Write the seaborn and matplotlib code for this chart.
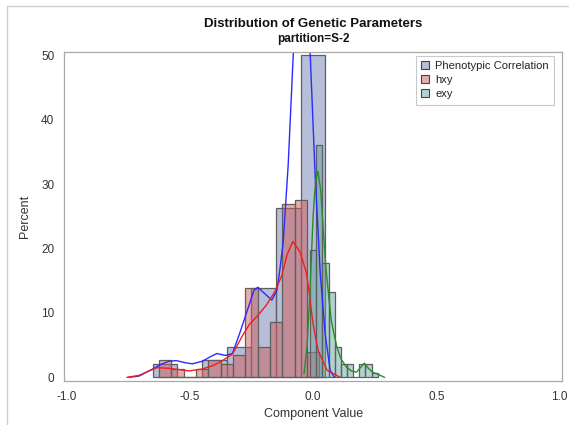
import numpy as np
import pandas as pd
import matplotlib
matplotlib.use("Agg")
import matplotlib.pyplot as plt
import seaborn as sns
from matplotlib.patches import Patch
from matplotlib.lines import Line2D

# ---- data -------------------------------------------------------------
series_names = ["Phenotypic Correlation", "hxy", "exy"]

# histogram bins: bin centres and percent of observations in each bin
pheno_centers = [-0.6, -0.5, -0.4, -0.3, -0.2, -0.1, 0.0]
pheno_pct = [2.1, 0.0, 2.7, 4.7, 13.9, 26.3, 50.0]

hxy_centers = [-0.6, -0.55, -0.5, -0.45, -0.4, -0.35, -0.3, -0.25, -0.2,
               -0.15, -0.1, -0.05, 0.0]
hxy_pct = [2.7, 1.3, 0.0, 1.3, 2.7, 2.0, 3.4, 13.9, 4.7, 8.6, 27.0, 27.6, 4.0]

exy_centers = [0.0, 0.025, 0.05, 0.075, 0.1, 0.125, 0.15, 0.175, 0.2,
               0.225, 0.25]
exy_pct = [19.8, 36.1, 17.7, 13.2, 4.7, 2.0, 2.0, 0.0, 2.0, 2.0, 0.7]

# kernel density curves, scaled to the percent axis
pheno_kde_x = [-0.747, -0.706, -0.650, -0.618, -0.584, -0.555, -0.522, -0.490,
               -0.449, -0.412, -0.390, -0.355, -0.327, -0.298, -0.271, -0.240,
               -0.224, -0.196, -0.167, -0.147, -0.135, -0.121, -0.101, -0.080,
               -0.061, -0.045, -0.029, -0.012, 0.008, 0.029, 0.049, 0.069, 0.086]
pheno_kde_y = [0.0, 0.2, 1.3, 2.0, 2.5, 2.6, 2.3, 2.1,
               2.5, 3.3, 3.7, 3.4, 3.7, 6.8, 9.9, 13.5,
               14.0, 13.0, 12.0, 13.5, 16.6, 21.1, 33.0, 50.5,
               64.0, 68.0, 64.0, 50.5, 31.6, 16.1, 6.8, 1.1, 0.0]

hxy_kde_x = [-0.755, -0.706, -0.665, -0.633, -0.584, -0.543, -0.502, -0.449,
             -0.408, -0.380, -0.327, -0.286, -0.257, -0.224, -0.188, -0.155,
             -0.127, -0.106, -0.082, -0.053, -0.026, 0.0, 0.020, 0.057, 0.110]
hxy_kde_y = [0.0, 0.3, 1.0, 1.5, 1.4, 1.2, 1.0, 1.3,
             1.8, 2.3, 3.6, 6.5, 8.3, 9.6, 11.3, 13.3,
             15.8, 19.0, 21.1, 19.5, 16.1, 8.3, 4.2, 1.1, 0.0]

exy_kde_x = [-0.037, -0.024, -0.012, 0.0, 0.010, 0.020, 0.031, 0.041, 0.051,
             0.061, 0.073, 0.086, 0.098, 0.114, 0.135, 0.155, 0.176, 0.192,
             0.208, 0.224, 0.241, 0.261, 0.290]
exy_kde_y = [0.5, 5.0, 14.0, 25.0, 30.5, 32.0, 29.0, 23.0, 17.5,
             13.5, 9.0, 6.5, 4.5, 2.8, 1.6, 1.0, 0.8, 1.5,
             2.2, 1.4, 0.8, 0.5, 0.0]

x_ticks = [-1.0, -0.5, 0.0, 0.5, 1.0]
y_ticks = [0, 10, 20, 30, 40, 50]

# ---- styling ----------------------------------------------------------
sns.set_theme(style="white")
plt.rcParams["font.family"] = ["Liberation Sans", "DejaVu Sans"]

fills = ["#6F7EB3", "#D05B5B", "#66A5A0"]
curve_colors = ["#2B2BFF", "#F01E1E", "#2A8C2A"]
bin_widths = [0.1, 0.05, 0.025]


def edges_for(centers, width):
    n = len(centers)
    return list(np.linspace(centers[0] - width / 2,
                            centers[-1] + width / 2, n + 1))


fig = plt.figure(figsize=(5.69, 4.25), dpi=100)
ax = fig.add_axes([0.1125, 0.1035, 0.8755, 0.7742])

hist_sets = [(pheno_centers, pheno_pct), (hxy_centers, hxy_pct),
             (exy_centers, exy_pct)]
for (centers, pct), color, w in zip(hist_sets, fills, bin_widths):
    frame = pd.DataFrame({"value": centers, "pct": pct})
    sns.histplot(data=frame, x="value", weights="pct",
                 bins=edges_for(centers, w), stat="count", ax=ax,
                 color=color, alpha=0.5, edgecolor="#5E5E5E", linewidth=0.9)

kde_sets = [(pheno_kde_x, pheno_kde_y), (hxy_kde_x, hxy_kde_y),
            (exy_kde_x, exy_kde_y)]
for (kx, ky), color in zip(kde_sets, curve_colors):
    curve = pd.DataFrame({"x": kx, "y": ky})
    sns.lineplot(data=curve, x="x", y="y", ax=ax, color=color, linewidth=1.0,
                 estimator=None, sort=False)

ax.set_xlim(-1.01, 1.01)
ax.set_ylim(-0.57, 50.54)
ax.set_xticks(x_ticks)
ax.set_xticklabels([f"{t:.1f}" for t in x_ticks])
ax.set_yticks(y_ticks)
ax.set_yticklabels([str(t) for t in y_ticks])

axis_gray = "#A8A8A8"
for sp in ax.spines.values():
    sp.set_color(axis_gray)
    sp.set_linewidth(0.9)
ax.tick_params(axis="both", which="major", direction="out", length=4,
               width=0.8, color="#777777", labelsize=8.5, labelcolor="#333333",
               pad=3)

ax.set_xlabel("Component Value", fontsize=9, color="#333333", labelpad=4)
ax.set_ylabel("Percent", fontsize=9, color="#333333", labelpad=7)

fig.text(0.55, 0.944, "Distribution of Genetic Parameters", ha="center",
         va="center", fontsize=9.5, fontweight="bold", color="#111111")
fig.text(0.55, 0.909, "partition=S-2", ha="center", va="center",
         fontsize=8.5, fontweight="bold", color="#111111")

handles = [Patch(facecolor=matplotlib.colors.to_rgba(c, 0.5),
                 edgecolor="#444444", linewidth=0.8) for c in fills]
leg = ax.legend(handles, series_names, loc="upper right",
                bbox_to_anchor=(0.9885, 0.9955), frameon=True, fancybox=False,
                fontsize=8, handlelength=0.75, handleheight=0.75,
                handletextpad=0.5, labelspacing=0.35, borderpad=0.5,
                borderaxespad=0.2)
leg.get_frame().set_edgecolor("#BBBBBB")
leg.get_frame().set_linewidth(0.8)
for t in leg.get_texts():
    t.set_color("#222222")

# outer page rule lines
fig.add_artist(Line2D([7 / 569, 1.0], [1 - 5.5 / 425, 1 - 5.5 / 425],
                      transform=fig.transFigure, color="#CFCFCF", lw=1.0))
fig.add_artist(Line2D([7 / 569, 7 / 569], [0.0, 1 - 5.5 / 425],
                      transform=fig.transFigure, color="#CFCFCF", lw=1.0))

fig.savefig("out.png", dpi=100)
